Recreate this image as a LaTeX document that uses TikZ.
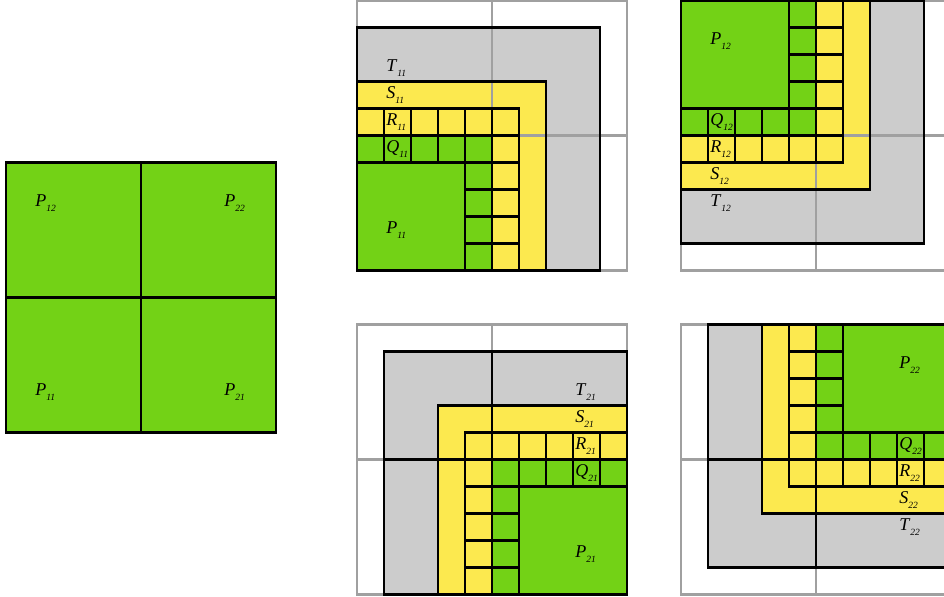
\documentclass[tikz,border=0pt]{standalone}
\usepackage{fontspec}
\setmainfont{Liberation Serif}
\usepackage{tikz}
\definecolor{leafgreen}{RGB}{115,210,22}
\definecolor{butter}{RGB}{252,233,79}
\definecolor{ashgray}{RGB}{204,204,204}
\definecolor{gridgray}{RGB}{160,160,160}
\newcommand{\blk}[2]{\textit{#1}\raisebox{-2.6pt}{\fontsize{5}{5}\selectfont\textit{#2}}}

\begin{document}
\begin{tikzpicture}[
  x=0.5cm, y=0.5cm,
  font=\fontsize{9.5}{11}\selectfont,
  tzone/.style={fill=ashgray},
  szone/.style={fill=butter},
  pzone/.style={fill=leafgreen},
  edge/.style={draw=black, line width=1.2pt},
  gline/.style={draw=gridgray, line width=1.1pt},
  lab/.style={anchor=base west, inner sep=0pt},
]
\clip (-0.222,-0.091) rectangle (34.741,22.02);

% whole matrix, 2x2 blocks
\fill[pzone] (0,6) rectangle (10,16);
\draw[edge] (0,6) rectangle (10,16) (5,6) -- (5,16) (0,11) -- (10,11);
\node[lab] (m12) at (1.07,14.37) {\blk{P}{12}};
\node[lab] (m22) at (8.07,14.37) {\blk{P}{22}};
\node[lab] (m11) at (1.07,7.37) {\blk{P}{11}};
\node[lab] (m21) at (8.07,7.37) {\blk{P}{21}};

% the four blocks, drawn from one corner and mirrored
\foreach \ox/\oy/\mx/\my/\blackin in {13/12/1/1/0, 25/22/1/-1/0, 23/0/-1/1/1, 35/10/-1/-1/1} {
  \begin{scope}[shift={(\ox,\oy)}, xscale=\mx, yscale=\my]
    \fill[tzone] (0,0) rectangle (9,9);
    \fill[szone] (0,0) rectangle (7,7);
    \fill[pzone] (0,0) rectangle (5,5);
    \draw[gline] (0,0) rectangle (10,10) (5,0) -- (5,10) (0,5) -- (10,5);
    \ifnum\blackin=1
      \begin{scope}
        \clip (0,0) rectangle (9,9);
        \draw[edge] (5,0) -- (5,10) (0,5) -- (10,5);
      \end{scope}
    \fi
    \draw[edge] (0,0) rectangle (9,9) (0,0) rectangle (7,7) (0,0) rectangle (6,6)
                (0,0) rectangle (5,5) (0,0) rectangle (4,4);
    \foreach \i in {1,...,5} {\draw[edge] (\i,5) -- (\i,6) (5,\i) -- (6,\i);}
    \foreach \i in {1,...,4} {\draw[edge] (\i,4) -- (\i,5) (4,\i) -- (5,\i);}
  \end{scope}
}

% labels
\foreach \lt/\k in {T/7,S/6,R/5,Q/4,P/1} {
  \node[lab] (\lt11) at (14.07,12.37+\k) {\blk{\lt}{11}};
  \node[lab] (\lt12) at (26.07,21.37-\k) {\blk{\lt}{12}};
  \node[lab] (\lt21) at (21.07,0.37+\k) {\blk{\lt}{21}};
  \node[lab] (\lt22) at (33.07,9.37-\k) {\blk{\lt}{22}};
}
\end{tikzpicture}
\end{document}
